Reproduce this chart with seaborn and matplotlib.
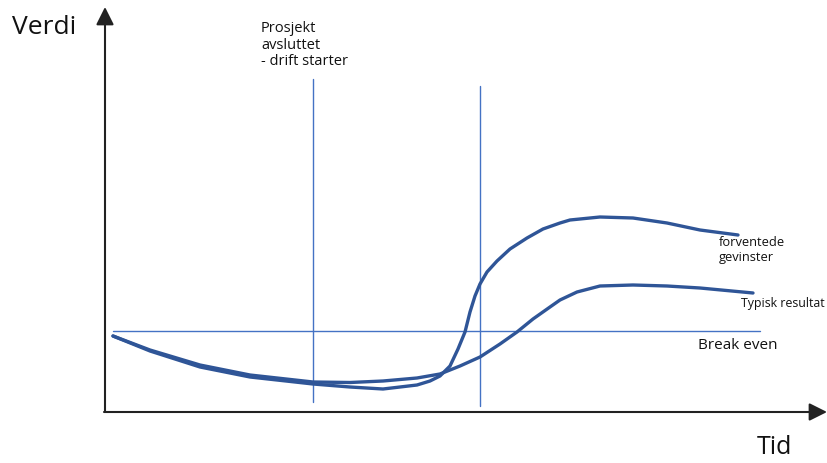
import matplotlib
matplotlib.use("Agg")
import matplotlib.pyplot as plt
import seaborn as sns
import pandas as pd

# Curve samples (x along time axis, y as drawn value; origin at bottom-left of canvas)
exp_x = [113, 150, 200, 250, 313, 350, 383, 417, 430, 440, 450, 458, 465, 470,
         475, 480, 487, 497, 510, 527, 543, 560, 570, 600, 633, 667, 700, 738]
exp_y = [127, 112, 96, 86, 79, 76, 74, 78, 82, 87, 97, 114, 131, 151,
         167, 179, 191, 202, 214, 225, 234, 240, 243, 246, 245, 240, 233, 228]

typ_x = [113, 150, 200, 250, 313, 350, 383, 417, 440, 460, 480, 500, 517, 533,
         550, 560, 577, 600, 633, 667, 700, 753]
typ_y = [127, 113, 98, 88, 81, 80.5, 82, 85, 89, 97, 106, 119, 131, 144,
         156, 163, 171, 177, 178, 177, 175, 170]

break_even = 132
milestones_x = [313, 480]
milestone_top = [384, 377]

sns.set_theme(style="white")
plt.rcParams["font.family"] = ["Open Sans", "DejaVu Sans"]

fig = plt.figure(figsize=(8.27, 4.64), dpi=100)
ax = fig.add_axes([0, 0, 1, 1])
ax.set_xlim(0, 827)
ax.set_ylim(0, 464)
ax.axis("off")

line_blue = "#4472C4"
curve_blue = "#2F5597"
ink = "#111111"

# Break-even and milestone guides
ax.plot([113, 760], [break_even, break_even], color=line_blue, lw=1)
ax.plot([milestones_x[0]] * 2, [61, milestone_top[0]], color=line_blue, lw=1)
ax.plot([milestones_x[1]] * 2, [57, milestone_top[1]], color=line_blue, lw=1)

df = pd.concat([
    pd.DataFrame({"x": exp_x, "y": exp_y, "serie": "forventede gevinster"}),
    pd.DataFrame({"x": typ_x, "y": typ_y, "serie": "Typisk resultat"}),
])
sns.lineplot(data=df, x="x", y="y", units="serie", estimator=None, sort=False,
             color=curve_blue, lw=2.4, ax=ax, legend=False,
             solid_joinstyle="round", solid_capstyle="round")

# Axes with arrowheads
arrow = dict(arrowstyle="-|>,head_length=0.9,head_width=0.45",
             color="#222222", lw=1.5, shrinkA=0, shrinkB=0)
ax.annotate("", xy=(105, 456), xytext=(105, 51), arrowprops=arrow)
ax.annotate("", xy=(827, 51), xytext=(104, 51), arrowprops=arrow)

ax.text(12, 436, "Verdi", fontsize=19, ha="left", va="center", color=ink)
ax.text(757, 16, "Tid", fontsize=18, ha="left", va="center", color=ink)

ax.text(261, 443, "Prosjekt\navsluttet\n- drift starter", fontsize=10.5,
        ha="left", va="top", linespacing=1.15, color=ink)
ax.text(719, 214, "forventede\ngevinster", fontsize=9.3, ha="left", va="center",
        linespacing=1.15, color=ink)
ax.text(741, 161, "Typisk resultat", fontsize=8.9, ha="left", va="center",
        color=ink)
ax.text(698, 118, "Break even", fontsize=11, ha="left", va="center", color=ink)

fig.savefig("out.png", dpi=100)
